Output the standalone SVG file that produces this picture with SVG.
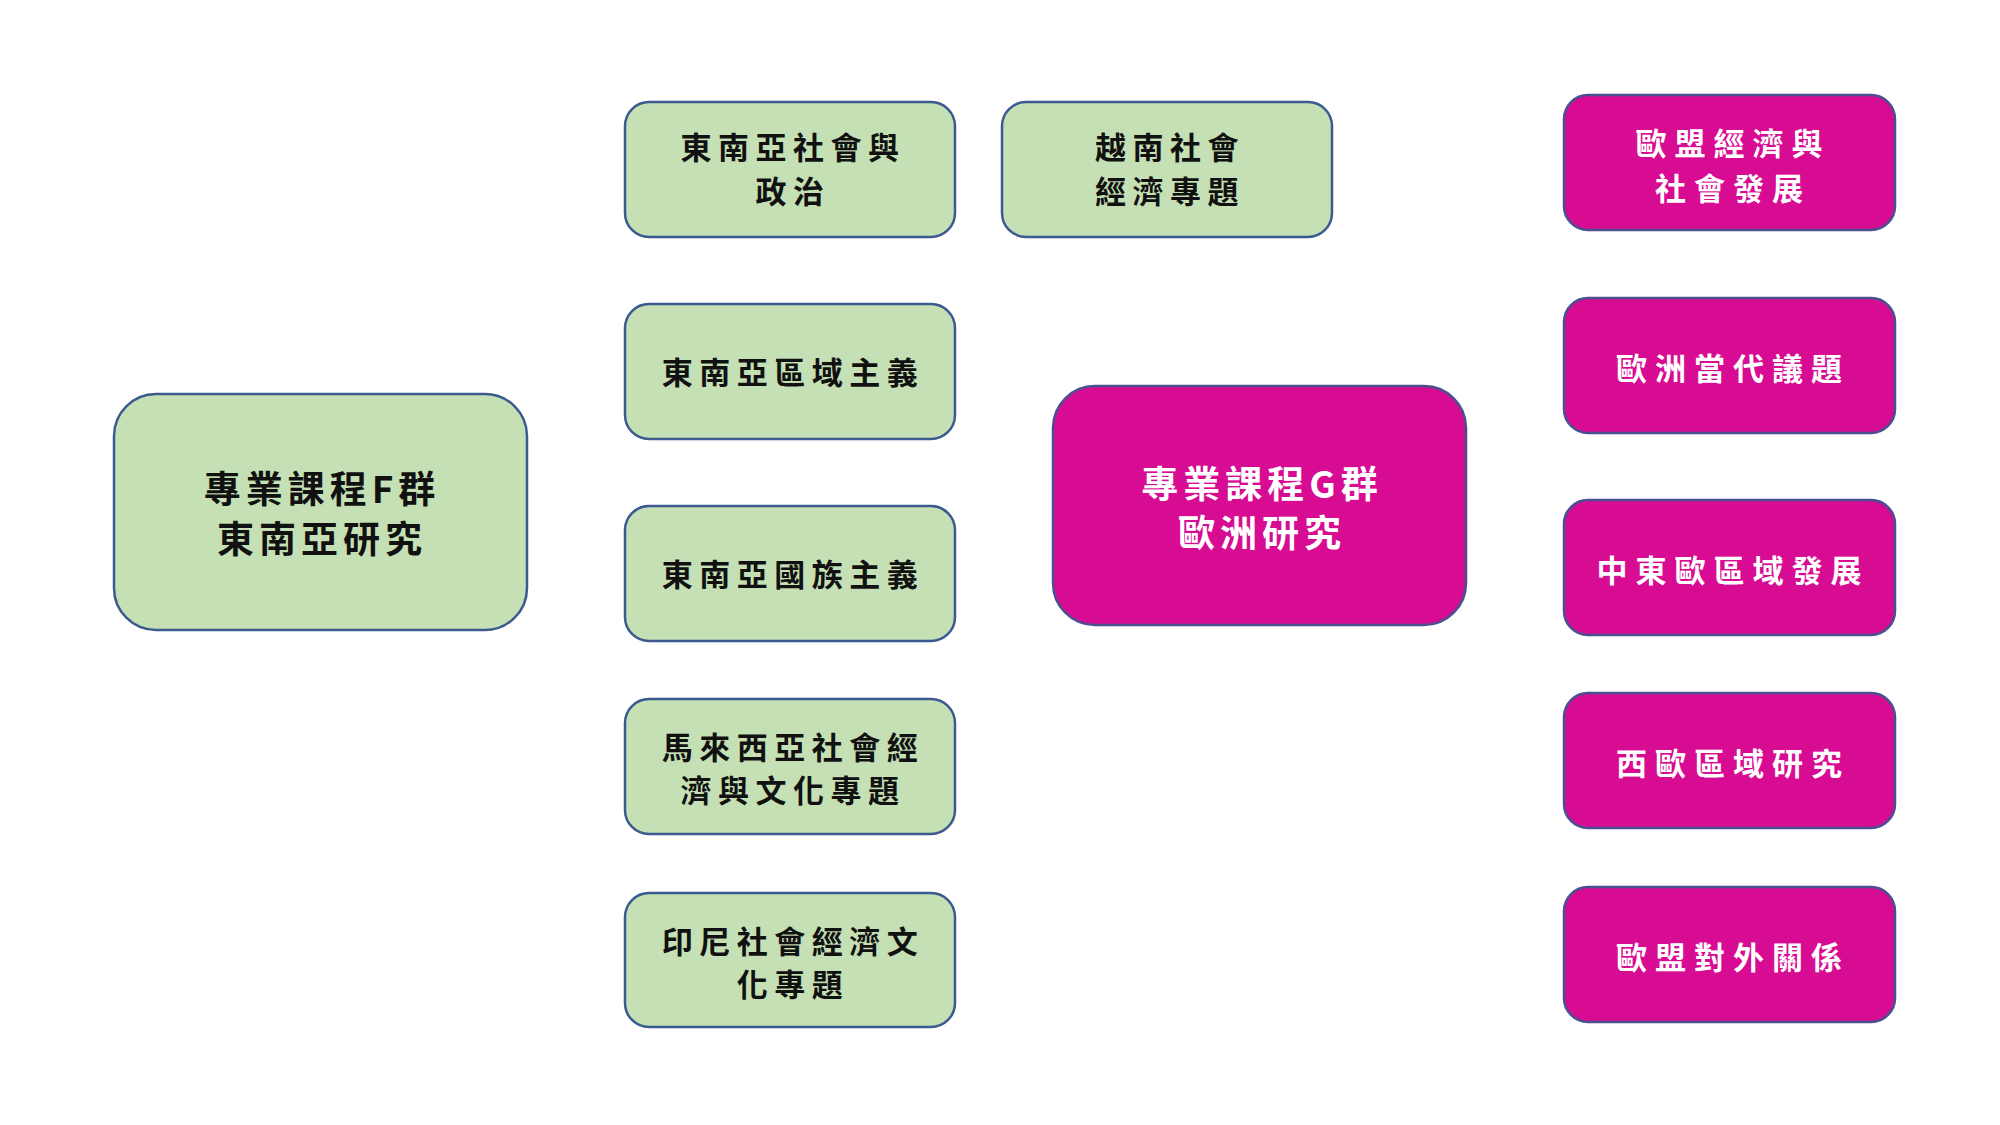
<svg xmlns="http://www.w3.org/2000/svg" width="2000" height="1125" viewBox="0 0 2000 1125">
<style>
.g{fill:#C5E0B4;stroke:#3B5A8F;stroke-width:2.5}
.p{fill:#D80B93;stroke:#4A4F8F;stroke-width:2.5}
text{font-family:"Noto Sans CJK TC","Noto Sans CJK SC",sans-serif;font-weight:700;text-anchor:middle;dominant-baseline:central}
.tg{fill:#111}
.tp{fill:#fff}
.s{font-size:31px;letter-spacing:6.5px}
.tp.s{letter-spacing:8px}
.l{font-size:37px;letter-spacing:5px}
</style>
<rect width="2000" height="1125" fill="#fff"/>
<g id="connectors"/>
<g id="f-main">
<rect class="g" x="114" y="394" width="413" height="236" rx="42"/>
<text class="tg l" x="322" y="487">專業課程F群</text>
<text class="tg l" x="322" y="537">東南亞研究</text>
</g>
<g id="f1">
<rect class="g" x="625" y="102" width="330" height="135" rx="24"/>
<text class="tg s" x="793" y="145">東南亞社會與</text>
<text class="tg s" x="793" y="189">政治</text>
</g>
<g id="f2">
<rect class="g" x="1002" y="102" width="330" height="135" rx="24"/>
<text class="tg s" x="1170" y="145">越南社會</text>
<text class="tg s" x="1170" y="189">經濟專題</text>
</g>
<g id="f3">
<rect class="g" x="625" y="304" width="330" height="135" rx="24"/>
<text class="tg s" x="793" y="370">東南亞區域主義</text>
</g>
<g id="f4">
<rect class="g" x="625" y="506" width="330" height="135" rx="24"/>
<text class="tg s" x="793" y="572">東南亞國族主義</text>
</g>
<g id="f5">
<rect class="g" x="625" y="699" width="330" height="135" rx="24"/>
<text class="tg s" x="793" y="745">馬來西亞社會經</text>
<text class="tg s" x="793" y="788">濟與文化專題</text>
</g>
<g id="f6">
<rect class="g" x="625" y="893" width="330" height="134" rx="24"/>
<text class="tg s" x="793" y="939">印尼社會經濟文</text>
<text class="tg s" x="793" y="982">化專題</text>
</g>
<g id="g-main">
<rect class="p" x="1053" y="386" width="413" height="239" rx="42"/>
<text class="tp l" x="1262" y="482">專業課程G群</text>
<text class="tp l" x="1262" y="531">歐洲研究</text>
</g>
<g id="g1">
<rect class="p" x="1564" y="95" width="331" height="135" rx="24"/>
<text class="tp s" x="1733" y="141">歐盟經濟與</text>
<text class="tp s" x="1733" y="186">社會發展</text>
</g>
<g id="g2">
<rect class="p" x="1564" y="298" width="331" height="135" rx="24"/>
<text class="tp s" x="1733" y="366">歐洲當代議題</text>
</g>
<g id="g3">
<rect class="p" x="1564" y="500" width="331" height="135" rx="24"/>
<text class="tp s" x="1733" y="568">中東歐區域發展</text>
</g>
<g id="g4">
<rect class="p" x="1564" y="693" width="331" height="135" rx="24"/>
<text class="tp s" x="1733" y="761">西歐區域研究</text>
</g>
<g id="g5">
<rect class="p" x="1564" y="887" width="331" height="135" rx="24"/>
<text class="tp s" x="1733" y="955">歐盟對外關係</text>
</g>
</svg>
